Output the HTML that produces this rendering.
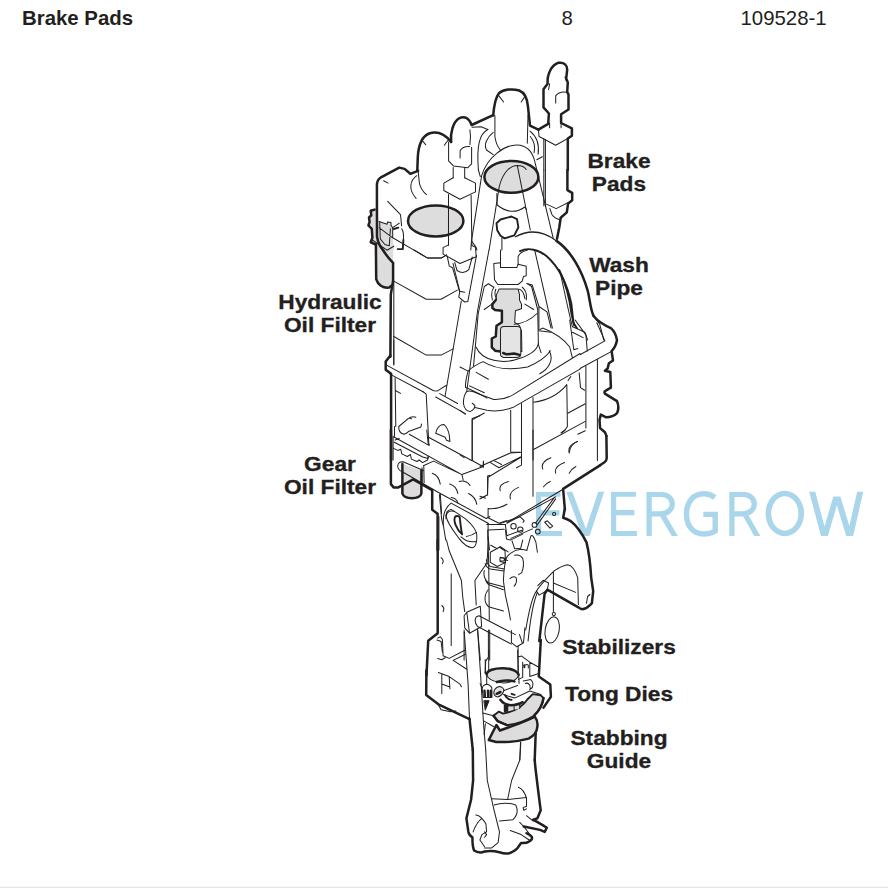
<!DOCTYPE html>
<html><head><meta charset="utf-8">
<style>
html,body{margin:0;padding:0;background:#fff;}
body{width:888px;height:888px;overflow:hidden;position:relative;font-family:"Liberation Sans",sans-serif;color:#231f20;}
.t{position:absolute;white-space:nowrap;line-height:1;}
.h{font-size:20.4px;top:7.7px;}
.l{font-weight:bold;font-size:19.7px;text-align:center;line-height:23px;transform:translateX(-50%) scaleX(1.153);-webkit-text-stroke:0.3px #231f20;}
svg{position:absolute;left:0;top:0;}
#art path,#art ellipse{fill:none;stroke:#231f20;stroke-linecap:round;stroke-linejoin:round;}
#art .k{stroke-width:2.5;}
#art .n2{stroke-width:1.3;}
#art .m{stroke-width:1.9;}
#art .n{stroke-width:1.02;}
#art .g{fill:#dddddd;}
#art .w{fill:#fff;}
#art .e{stroke-width:2.5;}
#art .g2{fill:#e4e4e4;}
#art .nost{stroke:none;}
#art .dk{fill:#231f20;stroke-width:1;}
#art .wm{stroke:#a9d6ea;stroke-width:4.6;stroke-linecap:butt;stroke-linejoin:miter;stroke-miterlimit:10;}
</style></head><body>
<svg id="art" width="888" height="888" viewBox="0 0 888 888">
<defs><clipPath id="wc"><path d="M520,491.7 H829 V496.5 H845 V491.7 H880 V536.0 H520 Z"/></clipPath></defs>
<g clip-path="url(#wc)">
<path class="wm" style="stroke-width:5.2" d="M560.5,494.2 L538.6,494.2 L538.6,533.5 L562,533.5 M538.6,512.9 L559.4,512.9"/>
<path class="wm" style="stroke-width:5.7" d="M567.1,485.7 L586.1,537.5 L603.2,485.7"/>
<path class="wm" style="stroke-width:5.2" d="M635.9,494.2 L613.6,494.2 L613.6,533.5 L636.9,533.5 M613.6,512.6 L634.4,512.6"/>
<path class="wm" style="stroke-width:5.3" d="M649.1,539.0 L649.1,494.3 L660.5,494.3 C676.2,494.3 676.2,513.8 660.5,513.8 L649.1,513.8 M661.8,513.8 L677.3,540.3"/>
<path class="wm" style="stroke-width:5.3" d="M731.9,539.0 L731.9,494.3 L742.5,494.3 C758.2,494.3 758.2,513.8 742.5,513.8 L731.9,513.8 M744.6,513.8 L759.8,540.3"/>
<path class="wm" style="stroke-width:5.9" d="M810.4,485 L824.4,537.5 L836.8,495 L849.8,537.5 L861.7,485"/>
</g>
<path class="wm" style="stroke-width:5.4" d="M714.8,497.5 C711.5,495 708,493.8 704,493.8 C693,493.8 686.5,502 686.5,513.9 C686.5,526 693,534 704,534 C708.5,534 712,533 715.2,531 L715.2,514.4 L703.3,514.4"/>
<ellipse class="wm" style="stroke-width:5.6" cx="784.8" cy="513.45" rx="16.4" ry="20"/>
<ellipse class="g e" cx="511.4" cy="176.9" rx="27.0" ry="15.9"/>
<ellipse class="g e" cx="435.7" cy="220.9" rx="27.7" ry="15.5"/>
<path class="g nost" d="M374.6,209.6 L370.7,210.8 L371.3,215.3 L369.0,217.5 L369.6,222.0 L368.4,225.4 L371.8,228.8 L372.4,237.8 L370.7,242.3 L375.8,244.5 L375.8,280.6 L379.1,286.2 L385.9,288.5 L390.4,285.1 L393.2,279.5 L393.8,267.1 L392.7,262.6 L393.8,246.2 L392.7,237.8 L392.7,227.7 L391.0,225.4 L391.0,222.6 L387.6,222.0 L387.0,224.3 L379.1,221.5 L376.9,217.5 L376.7,209.6 Z"/>
<path class="g nost" d="M402.4,463.8 L421.4,470.5 L421.4,493.5 Q420.0,498.2 411.9,498.2 Q403.8,498.2 402.4,493.5 Z"/>
<path class="k" d="M417.3,170.0 L417.8,156.8 C418.6,144.6 421.6,136.5 429.1,133.5 C436.5,131.1 444.6,133.8 451.1,141.9"/>
<path class="k" d="M451.1,141.9 C450.3,132.4 453.0,122.3 458.8,118.5 C464.2,115.5 468.9,117.6 471.6,125.0 L493.2,115.1"/>
<path class="n" d="M469.9,129.7 L470.5,136.5 L469.9,144.6"/>
<path class="n" d="M448.6,141.9 L448.6,160.8 L453.4,165.9 L467.6,167.8 L471.6,163.8 L471.6,147.3"/>
<path class="n" d="M460.1,158.1 L460.1,150.7 Q462.8,146.2 469.6,146.6"/>
<path class="n" d="M421.6,139.9 L425.7,144.6 M448.0,140.3 L444.3,145.3"/>
<path class="n" d="M472.0,127.3 L481.1,126.8 L487.8,129.5"/>
<path class="n" d="M487.8,129.5 C479.7,133.8 476.4,144.6 478.4,170.0"/>
<path class="n" d="M493.2,132.4 C486.5,137.8 483.8,144.6 486.5,150.0 L493.2,154.7"/>
<path class="k" d="M493.2,115.5 C493.9,106.8 495.1,98.0 498.9,93.2 C503.6,89.2 512.4,88.5 519.2,90.5 C524.6,92.6 527.3,97.3 528.0,106.8 L530.0,125.7 L538.4,129.7"/>
<path class="k" d="M538.4,129.7 L548.2,123.9 L548.9,113.5 L543.5,107.4 L543.5,89.2 L547.6,83.8 C546.9,74.3 551.6,64.9 558.4,62.8 C564.5,61.9 567.2,65.5 567.2,69.6 L566.2,78.4 L567.8,82.4 L567.2,91.9 L568.5,94.6 L568.5,109.5 L561.1,114.2 L561.1,123.0 L571.9,128.4 L571.9,135.8 L567.8,138.5 L567.8,170.0"/>
<path class="n" d="M538.4,130.0 L539.1,136.5 L555.7,145.3 L571.9,136.1"/>
<path class="n" d="M549.6,123.0 L549.6,127.7 M561.1,123.0 L561.1,127.7"/>
<path class="n" d="M543.8,138.5 L543.8,170.0 M545.4,139.5 L545.4,170.0"/>
<path class="n" d="M555.7,103.0 L555.7,95.9 Q559.1,91.2 566.5,92.2"/>
<path class="n" d="M549.6,83.8 L548.6,89.5 M564.9,77.0 L566.5,81.4"/>
<path class="n" d="M498.9,95.9 L503.6,102.0 M525.3,95.9 L521.2,102.0"/>
<path class="n" d="M494.9,115.5 L494.9,136.5 Q495.9,144.6 500.3,150.0 M528.0,114.9 L527.3,143.2"/>
<path class="n" d="M530.0,131.1 C536.8,136.5 539.5,144.6 538.1,154.1 M530.3,136.5 C534.7,141.9 535.4,147.3 534.1,152.7 M542.4,156.8 L536.8,159.7"/>
<path class="n" d="M470.8,250.0 L471.5,240.8 L481.6,175.9 C487.0,157.0 504.6,144.9 516.8,144.9 C527.6,145.1 533.0,153.0 535.0,162.4 L553.2,238.1"/>
<path class="n" d="M489.1,250.0 L499.2,186.8 C503.2,170.5 511.4,165.4 517.4,165.4 C522.2,165.4 524.9,167.2 526.2,169.5 M517.4,165.8 L530.3,230.0"/>
<path class="n" d="M471.5,240.8 L476.2,247.6 L476.9,250.0"/>
<path class="k" d="M567.4,169.9 L567.4,190.1 L572.2,192.8 L572.2,200.3 L568.1,203.6 L566.8,212.4 L560.7,217.8 L559.3,227.3 L557.0,238.8"/>
<path class="n" d="M543.8,169.9 L543.8,205.7 M545.4,169.9 L545.4,206.4"/>
<path class="n" d="M546.5,204.1 L556.2,208.6 L572.2,200.5 M549.9,208.6 L551.9,214.5 Q554.6,218.5 560.3,219.9"/>
<path class="n" d="M478.4,170.0 L480.3,176.6"/>
<path class="n" d="M497.2,205.0 Q511.4,216.5 524.9,207.0 M496.8,193.5 L497.2,205.0 M524.9,207.0 L526.5,209.7"/>
<path class="m" d="M496.5,223.2 L500.5,219.5 L511.4,216.5 L517.0,219.2 L518.4,227.3 L514.3,235.4 L504.6,238.4 L500.5,235.7 L497.2,230.3 Z"/>
<path class="n" d="M501.9,250.0 L501.9,238.1"/>
<path class="n2" d="M515.4,236.8 C522.7,232.8 533.5,230.1 544.3,234.2 C549.7,236.2 553.8,238.9 556.5,240.9"/>
<path class="k" d="M556.5,240.9 C571.4,251.1 582.2,271.4 587.6,290.3 C590.3,301.1 590.3,309.2 593.6,315.9"/>
<path class="m" d="M520.0,251.1 C528.1,247.0 538.9,249.7 547.0,256.5 C560.5,268.6 567.3,284.9 571.4,303.8 L573.4,322.7 L576.8,328.1"/>
<path class="m" d="M559.2,270.0 C565.9,283.5 570.0,301.1 571.6,314.6 L574.1,325.4"/>
<path class="n" d="M560.0,272.0 C563.2,284.9 566.6,303.8 572.4,326.8"/>
<path class="n" d="M534.9,251.1 L552.4,328.1"/>
<path class="n" d="M538.9,306.5 L538.9,330.8 L551.1,332.2 M526.8,283.5 L532.2,284.9 L538.9,306.5 L547.0,311.9 L551.1,328.1"/>
<path class="n" d="M593.6,315.9 L599.7,324.1 L603.8,340.0 M572.7,326.8 L584.9,332.2 L587.6,340.0"/>
<path class="k" d="M383.0,250.0 Q378.2,244.6 377.0,236.5 L376.9,185.4 C376.9,181.4 378.2,179.1 380.5,177.7 L399.2,167.6 L404.6,168.9 L410.3,173.8 L418.1,170.9"/>
<path class="n" d="M418.1,170.9 L419.5,183.8 Q421.5,190.5 426.5,194.6 M416.8,175.7 C410.0,180.4 408.0,189.2 416.1,198.4"/>
<path class="n" d="M383.6,180.8 L388.1,183.1"/>
<path class="n" d="M387.7,201.4 L400.5,214.6 L401.6,225.7"/>
<path class="n" d="M420.1,253.8 L427.6,258.1 L441.1,258.1 L446.5,255.1"/>
<path class="n" d="M453.2,167.6 L453.2,177.7 M464.7,167.6 L464.7,177.7"/>
<path class="n" d="M453.2,177.7 L443.8,183.1 L443.8,190.5 L460.0,199.3 L475.5,191.9 L475.5,183.1 L464.7,177.7"/>
<path class="n" d="M448.5,194.6 L448.5,245.3 M471.1,195.3 L471.9,245.9"/>
<path class="n" d="M448.5,244.9 L443.1,247.6 L443.1,254.1 L460.0,263.5 L476.2,256.8 L475.5,247.3 L471.9,245.4"/>
<path class="k" d="M374.6,209.6 L370.7,210.8 L371.3,215.3 L369.0,217.5 L369.6,222.0 L368.4,225.4 L371.8,228.8 L372.4,237.8 L370.7,242.3 L375.8,244.5"/>
<path class="n" d="M379.1,221.5 L387.0,224.3 L387.6,222.0 L391.0,222.6 L391.0,225.4 L392.7,227.7 L392.7,237.8 L420.0,253.6 M392.7,227.7 L399.4,223.2 M379.1,227.7 L392.7,237.8 M379.7,222.6 L380.3,238.9 L384.8,244.5 L389.3,245.7 L390.4,228.8 M387.0,250.2 L393.8,246.2 M372.4,240.0 L387.0,250.2"/>
<path class="m" d="M393.8,229.0 L398.3,227.7 M403.4,240.0 L402.8,249.1 L397.7,249.1"/>
<path class="n" d="M401.7,228.8 Q404.1,232.2 403.4,240.0"/>
<path class="k" d="M375.9,244.5 L376.2,279.1 C377.6,284.5 383.0,288.5 389.1,287.6 L392.4,285.1"/>
<path class="k" d="M383.0,250.0 Q387.0,256.8 393.1,262.8 L393.1,280.4 L390.8,294.6 L390.4,356.8"/>
<path class="n" d="M393.8,281.1 L393.8,364.9"/>
<path class="n" d="M393.8,281.1 L426.2,299.3 L441.1,299.3 L457.3,290.1 M393.8,336.5 L426.2,355.1 L441.1,355.1 L453.2,348.9 M414.1,250.0 L427.6,258.1 L441.1,258.1 L446.5,254.9"/>
<path class="n" d="M447.2,256.1 L449.3,266.1 L452.6,267.8 L459.7,292.2 L458.8,297.2 L464.7,302.0 L467.8,301.6 L476.5,255.4"/>
<path class="n" d="M454.7,262.4 L457.0,270.5 Q463.4,275.0 468.8,269.6 L472.3,257.0 M453.0,263.5 L459.7,291.2 L464.7,292.2"/>
<path class="n" d="M461.3,301 L445.1,396"/>
<path class="n" d="M489,250 L477.7,310 L469.6,370 L466.8,391"/>
<path class="g n" d="M499.2,288.9 L518.1,288.9 L519.5,294.6 L519.5,300.0 L521.5,304.1 L521.5,308.8 L515.4,310.8 L514.7,322.3 L519.5,325.7 L521.5,331.1 L521.9,351.4 L500.5,351.6 L495.1,350.7 L491.8,347.3 L491.8,338.5 L495.8,336.5 L496.5,325.7 L501.9,322.3 L501.9,310.8 L495.1,310.1 L492.4,308.1 L492.4,304.1 L495.8,300.0 L496.5,294.6 Z"/>
<path class="k" d="M495.8,300.0 L492.4,304.1 L492.4,308.1 L495.1,310.1 L501.9,310.8 L501.9,322.3 L496.5,325.7 L495.8,336.5 L491.8,338.5 L491.8,347.3 L495.1,350.7 L500.5,351.6"/>
<path class="g2 n" d="M500.5,329.7 Q500.5,326.4 503.9,326.4 L517.4,326.4 Q520.8,326.4 520.8,329.7 L520.8,354.1 Q520.8,357.4 517.4,357.4 L503.9,357.4 Q500.5,357.4 500.5,354.1 Z"/>
<path class="k" d="M503.2,353.0 L506.6,354.3 L514.1,353.5 L519.5,354.9"/>
<path class="n" d="M493.8,263.5 L500.5,262.8 L500.5,267.6 L516.8,267.6 L518.1,264.2 L526.2,266.2 L526.2,275.7 L523.5,276.4 L522.2,281.1 L518.1,284.5 L497.8,284.5 L494.5,279.7 Z"/>
<path class="n" d="M500.5,250.0 L500.5,262.8 M518.1,264.2 L518.1,256.8 Q519.5,252.0 527.6,250.0"/>
<path class="n" d="M473.5,366.2 L475.5,344.6 L478.2,313.5 L484.3,286.5 L488.4,283.8 L493.8,287.2 M527.6,283.8 L531.6,286.5 L537.7,309.5 L538.4,344.6 L541.1,352.7"/>
<path class="n" d="M493.8,287.2 Q490.4,291.9 492.4,300.0 M495.8,289.2 Q493.8,294.6 496.5,298.6 M519.5,289.2 Q523.5,290.5 524.9,298.6 M522.2,287.2 Q527.6,291.9 526.2,300.0 M484.3,309.5 L491.8,304.1 M524.9,304.1 L533.6,309.5"/>
<path class="n" d="M514.1,324.3 Q527.6,323.0 537.0,313.5"/>
<path class="n" d="M476.2,347.3 C481.6,360.8 503.2,364.9 520.8,358.1 C531.6,354.1 537.7,348.6 538.4,343.2"/>
<path class="k" d="M390.4,355.5 L385.7,361.6 L385.7,369.7 L391.1,373.8 L391.1,460.0"/>
<path class="n" d="M393.8,340.0 L393.8,364.3"/>
<path class="n" d="M387.0,365.4 L433.6,390.8 L437.0,391.1 L446.5,385.3 M439.7,393.6 L457.6,403.5 M390.0,374.1 L423.5,392.0 M435.7,397.0 L465.4,413.6"/>
<path class="n" d="M395.1,377.8 L395.8,426.5 M409.3,434.2 L428.9,445.4 L426.2,394.1 L423.5,392.0 M395.8,390.7 L400.5,393.4"/>
<path class="n" d="M398.8,426.5 L407.6,419.1 Q412.0,415.7 415.8,417.3 M398.8,426.5 Q398.1,432.6 403.9,434.3 Q406.6,433.5 408.4,431.6 L420.9,427.0 L421.5,424.1 M406.6,419.7 Q408.9,417.3 411.6,418.9"/>
<path class="n" d="M435.7,433.2 L437.0,429.2 Q439.7,424.5 444.1,424.6 Q447.8,427.8 449.2,434.6 L449.9,441.4 L446.5,440.3 L445.1,437.3 Z"/>
<path class="n" d="M394.5,426.5 L394.5,436.2 M393.1,436.2 L393.1,460.0 M395.1,440.0 L399.2,438.4"/>
<path class="n" d="M472.2,418.4 L472.2,460.0 M472.2,418.4 L480.0,415.7"/>
<path class="n" d="M580.0,353.5 L514.1,394.1 Q504.6,400.1 493.8,399.5 L478.9,394.1 Q470.8,390.0 466.8,391.4 Q463.4,395.4 463.4,403.5 Q464.7,410.9 470.1,411.6 Q474.9,409.6 474.9,405.5 L472.2,403.2"/>
<path class="n" d="M474.9,407.6 L487.0,410.3 Q500.5,412.3 512.7,407.6 L580.0,369.1"/>
<path class="n" d="M521.5,403.5 L521.5,460.0 M533.0,397.4 L533.0,460.0 M510.7,410.3 L510.7,452.2 L519.5,452.2"/>
<path class="n" d="M472.2,419.7 L484.3,413.0 M472.2,419.7 L472.2,460.0 M460.0,410.3 L465.4,414.3 M460.0,454.9 L464.1,457.6"/>
<path class="n" d="M533.6,402.2 Q554.6,399.5 566.8,384.6 L567.4,426.5 Q565.4,430.5 561.4,433.2 M568.1,380.5 L570.8,376.5"/>
<path class="n" d="M468.1,371.1 Q473.5,365.7 483.0,361.6 M483.0,361.6 Q500.5,372.4 527.6,367.0 Q543.8,360.3 550.5,350.8 M468.1,371.1 Q465.4,380.5 465.4,387.3 Q480.3,394.1 487.0,398.1 M476.2,372.4 L488.4,379.2 M469.5,385.9 L484.3,392.7 M549.2,350.8 C554.6,360.3 547.8,369.7 539.7,373.8"/>
<path class="n" d="M569.5,452.2 Q570.1,444.7 577.6,441.4"/>
<path class="n" d="M460.0,367.0 L468.1,371.1"/>
<path class="n" d="M533.6,449.5 L585.3,421.4"/>
<path class="k" d="M593.6,315.9 Q596.8,320.0 601.1,322.7 Q606.2,326.1 610.9,328.1 Q615.7,332.2 617.0,340.3 Q615.7,347.0 611.6,351.1 L613.0,360.5 L608.9,363.2 L607.6,368.6 L604.9,370.7 L610.3,372.0 L610.9,387.6 L606.2,390.3 Q603.5,391.6 604.9,393.6 Q610.3,397.0 617.0,401.1 Q619.7,407.8 617.0,413.2 Q613.0,417.3 606.2,417.3 L600.8,414.6 L599.5,420.0 L600.1,428.1 L604.9,432.2 Q606.2,434.9 606.4,436.2"/>
<path class="k" d="M606.4,436 L606.7,458.2 Q606.5,461 604.8,462 L600,465.2"/>
<path class="n" d="M580.0,354.7 L604.9,340.9 L596.8,322.7 M580.0,368.5 L611.6,351.4"/>
<path class="n" d="M585.9,365.9 L585.9,428.1 M597.4,359.2 L597.4,460.5"/>
<path class="n" d="M579.2,372.7 L580.5,387.6 L584.6,390.3"/>
<path class="n" d="M567.7,413.2 L585.3,403.8 M577.8,434.2 L585.3,430.8"/>
<path class="n" d="M569.7,320.0 L573.8,349.7 L577.8,348.4 M572.4,332.2 L583.2,337.6 M575.1,320.0 L585.9,334.9 L587.3,351.1"/>
<path class="n" d="M540.0,329.5 L542.7,328.1 Q560.3,334.9 569.7,347.0 L572.4,357.8"/>
<path class="k" d="M390.9,430.0 L390.9,484.1 L393.6,487.4 L398.4,487.4 L413.2,479.3 L432.2,490.1 L432.2,509.7 L437.6,513.8 L437.6,550.0"/>
<path class="k" d="M402.4,463.8 L402.4,493.5 Q403.8,498.2 411.9,498.2 Q420.0,498.2 421.4,493.5 L421.4,470.5"/>
<path class="n" d="M397.7,466.5 Q397.7,461.4 403.1,461.8 L423.4,470.5 M397.7,466.5 Q398.4,470.5 403.1,472.2 L440.3,493.5 L486.2,518.5 L490.0,516.5"/>
<path class="n" d="M393.6,448.4 L397.7,450.4 L400.8,449.3 L401.8,453.9 L407.3,456.5 L410.4,454.5 L411.4,459.1 L417.0,461.5 L419.1,460.0 L422.6,462.6 L427.6,460.0 L428.1,457.0"/>
<path class="n" d="M393.6,436.8 L461.9,474.6 L483.5,466.5 L483.5,461.1 M394.3,442.2 L422.7,457.0 L428.1,458.4 L428.1,455.7 M426.8,430.0 L428.1,443.5 L429.5,444.9 M423.4,465.8 L433.5,461.1 L461.9,474.6 L463.2,480.0 M422.0,467.8 L422.0,484.1 M423.8,466.5 L424.1,482.7"/>
<path class="n" d="M432.2,473.2 Q438.9,475.3 440.3,484.1 M449.7,484.1 Q456.5,486.1 457.8,493.5 M468.6,493.5 Q475.4,496.9 476.8,504.3 M459.2,481.4 Q465.9,480.0 470.0,485.4 M451.1,497.6 Q456.5,498.2 457.8,503.0"/>
<path class="n" d="M487.6,475.9 L487.6,494.9 L480.1,498.6 M487.6,475.9 L490.0,475.3"/>
<path class="n" d="M440.3,493.5 L441.6,513.8 M438.9,516.5 L438.9,550.0"/>
<path class="n" d="M443.5,526.0 C442.6,517.0 444.4,508.0 451.1,503.1 L488.1,523.3"/>
<path class="n" d="M445.9,518.8 C445.5,513.4 447.5,509.8 451.1,509.4 L454.7,511.6"/>
<path class="n" d="M439.4,494.5 L441.7,519.7 L443.5,526.0 L445.7,540.0"/>
<path class="n" d="M446.2,516.1 C446.6,511.6 451.1,509.4 455.6,512.1 L465.5,518.8 C471.8,524.2 476.4,529.6 476.8,535.0 C477.3,542.3 475.5,547.7 471.8,547.7 C467.3,547.2 462.8,543.2 459.2,538.6 C453.8,531.4 446.6,522.4 446.2,516.1 Z"/>
<path class="m" d="M455.2,516.6 C452.9,520.6 456.5,529.6 462.1,534.3 C461.0,529.6 460.3,522.4 459.7,517.0 C458.3,515.9 456.5,515.8 455.2,516.6"/>
<path class="n" d="M466.4,536.4 Q471.8,535.5 476.4,532.3 M461.0,536.8 Q468.2,543.2 476.4,541.5"/>
<path class="n" d="M488.1,523.3 L488.1,540.0"/>
<path class="k" d="M600.0,465.4 L563.1,488.9 L564.9,509.7"/>
<path class="n" d="M563.1,489.2 L507.0,522.6"/>
<path class="n" d="M533.0,430.0 L533.0,496.2 M521.5,430.0 L521.5,465.1 L516.5,467.8"/>
<path class="n" d="M480.0,466.5 L510.4,453.0 L521.2,452.3 M488.1,477.3 L521.2,457.0 M488.1,477.3 L487.4,494.9 L480.0,498.9 M480.0,496.2 L485.4,498.2 M490.1,462.4 L498.9,467.8 L520.5,457.0 M493.5,460.4 L501.6,464.5"/>
<path class="n" d="M488.1,508.4 L488.1,517.8 L498.9,523.2 L507.0,520.5 M488.1,508.4 Q497.6,509.7 507.0,504.3"/>
<path class="n" d="M500.3,490.8 Q498.2,484.1 508.4,481.4 M510.4,498.9 Q508.4,491.5 518.5,487.4 M542.8,469.2 Q540.1,461.8 550.9,457.7 M555.7,473.2 Q553.6,466.5 564.5,462.4 M569.2,453.0 Q567.2,445.5 577.3,441.5 M569.2,473.2 Q571.9,468.5 575.9,466.5 M543.5,486.8 Q546.2,483.0 550.3,481.4 M561.1,432.7 L565.1,430.0"/>
<path class="n" d="M507.0,523.2 L555.7,496.9 M535.4,523.2 L554.3,497.6 M537.4,524.6 L555.7,498.9"/>
<path class="n" d="M486.8,524.6 L505.7,524.6 M488.1,530.0 L504.3,529.3 M488.1,536.8 L489.5,550.0"/>
<path class="k" d="M564.6,509.7 L563.2,517.8 Q567.6,519.2 570.3,520.8 Q579.1,527.6 586.5,542.4 Q589.9,555.9 591.2,577.6 L593.2,591.1 L591.9,603.2 L590.8,604.3 Q586.5,608.6 582.4,609.3 Q579.7,608.9 578.4,607.3 L547.3,589.7 L544.6,593.8 L539.3,641.1"/>
<path class="n" d="M536.5,591.1 Q539.2,585.7 554.1,570.8 Q562.2,565.4 567.6,564.7 Q573.6,565.4 577.7,577.6 L578.4,604.6"/>
<path class="n" d="M553.4,572.2 L553.4,611.4 M553.4,583.0 L575.7,592.4 M543.2,580.3 L548.6,583.0 L547.3,589.7 M537.8,585.7 L543.2,580.3 M536.5,591.1 L539.2,595.1 L545.9,591.1"/>
<path class="n" d="M536.5,591.1 Q531.1,597.8 525.7,630.0 M537.2,592.7 Q531.4,607.3 528.1,640.9"/>
<ellipse class="n" cx="553.8" cy="614.1" rx="1.6" ry="1.6"/>
<path class="n" d="M586.5,603.2 L587.6,596.5 L589.9,594.5"/>
<ellipse class="n" cx="552.2" cy="629.9" rx="7.0" ry="13.2" transform="rotate(10 552.2 629.9)"/>
<ellipse class="n" cx="513.5" cy="526.2" rx="2.7" ry="2.7"/>
<ellipse class="n" cx="520.3" cy="529.6" rx="2.7" ry="2.7"/>
<ellipse class="n" cx="534.5" cy="524.9" rx="2.4" ry="2.4"/>
<ellipse class="n" cx="537.8" cy="531.6" rx="2.4" ry="2.4"/>
<ellipse class="n" cx="554.1" cy="514.1" rx="1.6" ry="1.6"/>
<path class="n" d="M544.6,522.2 L547.3,520.8 L552.7,526.2 L550.0,528.2 Z"/>
<path class="n" d="M500.0,523.5 L520.3,516.8 L524.3,520.8 L523.0,522.4 M505.4,524.9 L506.8,535.7 L521.6,530.3 M510.8,538.4 L532.4,528.9"/>
<path class="n" d="M500.0,546.5 L508.1,551.9 M500.0,557.3 L505.4,558.6 L505.4,562.7 L500.0,561.4"/>
<path class="k" d="M437.7,540.0 L437.7,633.2 L428.2,640.7 L426.5,675.1"/>
<path class="n" d="M451.2,573.8 L451.2,645.4 M437.0,640.0 L441.1,641.4 L442.4,652.2"/>
<path class="n" d="M441.1,557.6 Q444.5,560.3 442.4,563.6 M441.8,605.5 Q445.1,608.2 443.1,611.6"/>
<path class="n" d="M446.5,540.0 L449.2,550.8 L461.4,580.5 L462.7,596.8 L464.7,611.6 M464.1,631.9 L464.1,660.0"/>
<path class="n" d="M488.4,540.0 L487.0,563.0 L474.9,580.5 L476.2,604.9 M477.6,629.2 L480.3,660.0"/>
<path class="n" d="M466.8,612.3 L480.3,606.2 L481.6,626.5 L469.5,633.2 Z M466.8,612.3 L464.1,615.7 L464.7,627.8 L469.5,633.2"/>
<path class="n" d="M476.2,617.0 L478.9,615.7 L515.4,634.6 M477.6,626.5 L511.4,644.1 M476.2,617.0 Q473.5,621.1 477.6,626.5"/>
<path class="k" d="M426.4,670.5 L426.2,694.9 L438.4,704.3 L469.5,719.2"/>
<path class="n" d="M438.4,705.0 L441.1,709.7 L450.5,711.8 L455.9,711.1"/>
<path class="n" d="M464.1,630.0 L468.1,684.1 L469.5,718.5"/>
<path class="k" d="M469.5,718.5 L470.1,724.6 L472.8,750.0"/>
<path class="n" d="M477.6,630.0 L480.3,670.5 L483.6,724.6 L485.7,750.0"/>
<path class="n" d="M437.7,638.1 L440.4,636.8 L442.4,639.5 L443.1,655.7 L449.2,658.4 L464.7,650.3 M437.7,658.4 L441.8,659.7 L445.1,657.7 M438.4,672.6 L449.2,676.6 L460.0,684.1 L461.4,686.8 M441.8,674.6 L441.8,693.5 M449.2,676.6 L449.9,688.8 M441.8,684.1 L449.2,686.8 M453.2,660.4 L466.8,669.2 M453.2,660.4 L465.4,654.3"/>
<path class="n" d="M488.4,630.0 L488.4,657.0 L485.7,661.1 L485.0,673.2 M518.1,646.2 L518.1,670.5"/>
<path class="k" d="M540.8,640.0 L538.8,676.5 L550.3,684.6 L550.9,696.8 L543.5,707.6"/>
<path class="g k" d="M488.8,740.0 L496.4,725.0 L499.9,730.5 L512.6,725.9 Q525.9,721.1 534.9,716.6 Q538.1,721.1 537.4,726.5 Q536.8,734.6 528.6,738.6 Q513.8,742.7 496.2,742.0 Z"/>
<path class="g m" d="M493.5,715.7 L498.9,711.6 L503.0,713.6 Q520.5,710.3 527.3,699.5 L532.7,694.1 L540.8,695.4 L543.5,698.1 Q542.2,707.6 534.1,715.7 Q520.5,723.8 507.0,725.1 L497.6,721.1 Z"/>
<path class="k" d="M493.5,715.7 L497.6,721.1 L507.0,725.1 M543.5,698.1 Q542.2,707.6 534.1,715.7"/>
<path class="n" d="M482.7,713.0 L493.5,715.7 M484.1,721.1 L493.5,726.5 M485.4,723.8 L484.1,734.6"/>
<path class="n" d="M520.5,742.0 L519.9,760.0"/>
<path class="k" d="M535.7,733.2 L534.7,760.0"/>
<path class="k" d="M472.8,750.0 L473.1,780.5 L471.1,799.5 L466.4,818.4 L468.4,831.9 Q469.1,835.3 472.4,837.3 Q472.4,846.8 474.1,850.5 Q479.2,853.8 484.6,851.5 Q491.4,850.1 499.5,852.2 Q506.2,854.6 510.3,852.8 Q516.4,850.1 518.4,846.8 L521.1,843.0 Q526.5,843.4 529.2,841.4 Q533.2,839.3 531.6,836.6 Q529.9,834.6 526.5,833.2"/>
<path class="k" d="M534.7,760.0 L535.3,767.0 L538.6,794.1 L540.7,810.3 L537.3,818.4 L533.2,819.7 L542.7,825.1 L546.8,827.8 L544.7,831.9 L540.0,829.9 L523.8,826.5"/>
<path class="n" d="M485.7,750.0 L487.3,780.5 L494.1,810.3 L499.5,831.9 L498.1,842.7 L491.4,848.1 L484.6,848.1"/>
<path class="n" d="M520.8,742.7 L519.7,760.3 L511.6,780.5 L507.6,799.5 M491.4,798.8 L507.6,799.5 L526.5,797.4 M494.1,804.9 Q504.9,801.5 515.7,804.9 Q519.7,813.0 513.0,819.7 L499.5,821.1"/>
<path class="n" d="M518.4,787.3 Q523.8,789.3 526.5,798.1 L526.5,806.2 L523.1,807.6 L523.8,810.3 L526.5,808.9 M475.8,815.0 Q480.5,815.0 485.9,823.8 L486.6,831.9 L481.9,834.6 L479.9,840.0 L484.6,846.8 M473.1,831.9 Q476.5,822.4 481.9,818.4 M484.6,831.9 L486.6,834.6 L484.6,837.3"/>
<path class="n" d="M519.7,822.4 L523.8,826.5 L531.9,837.3 M510.3,830.5 L521.1,834.6 L529.2,840.0 M526.5,815.7 L533.2,821.1"/>
<path class="n" d="M487.7,530.0 L488.7,563.4 L489.3,620.0"/>
<path class="n" d="M490.3,552.3 L499.4,547.2 L505.0,550.8 L505.5,562.4 L497.4,566.5 L490.3,562.4 Z M490.8,545.2 L497.2,548.7"/>
<ellipse class="n" cx="502.2" cy="559.4" rx="2.4" ry="1.7"/>
<path class="n" d="M504.3,559.4 L507.7,560.4"/>
<path class="n" d="M505.5,530.0 L506.5,539.1 L510.5,540.1 L522.7,534.1 M512.1,541.1 L514.6,548.7 L520.7,548.2 L522.7,540.1"/>
<path class="n" d="M505.5,560.4 C506.5,555.3 512.6,550.3 520.7,549.3 L526.8,550.3 M505.5,560.4 L504.0,570.5 L503.4,580.7 L505.5,595.9 L508.5,609.1 L510.5,620.0"/>
<path class="n" d="M514.6,555.3 Q519.7,553.8 522.7,558.4 Q524.7,565.5 521.7,572.6 L518.6,574.6 M510.0,578.6 Q513.1,575.6 516.1,577.6 Q517.6,582.7 514.1,586.2"/>
<path class="n" d="M526.8,550.3 L530.8,536.1 Q532.8,533.5 535.9,542.2 L537.4,552.3"/>
<path class="n" d="M486.7,559.4 Q485.7,562.9 490.3,566.5 L504.5,569.0 M485.2,563.4 Q486.2,567.5 490.3,569.0 L504.0,571.0 M484.2,570.5 Q482.7,577.6 488.2,582.7 L503.4,586.8 M485.2,578.6 Q486.2,583.7 490.3,585.2 L503.4,589.8 M488.2,589.8 Q484.2,594.9 485.2,600.9 Q486.2,605.5 489.3,607.0 L503.4,611.1"/>
<path class="n" d="M511.4,630.5 L511.4,642.7 L516.8,646.8 L523.5,642.7 L524.9,627.8 M489.7,630.0 L489.7,660.0 M519.5,634.6 L522.2,642.7"/>
<path class="n" d="M472.1,460.5 L483.3,466.7 M483.3,461.8 L483.3,467.3"/>
<path class="n" d="M429,437.5 L472.1,460.8"/>
<path class="g nost" d="M486.7,674.3 C487.2,670.3 494.3,668.2 502.4,668.2 C510.5,668.2 517.6,670.8 518.6,674.8 C517.6,679.4 511.6,682.6 503.4,682.9 C495.3,682.6 487.7,679.4 486.7,674.3 Z"/>
<path class="w nost" d="M496.6,682.2 Q504.5,679.1 514.6,681.6 Q505.5,684.2 496.6,682.2 Z"/>
<path class="k" d="M486.7,674.3 C487.2,670.3 494.3,668.2 502.4,668.2 C510.5,668.2 517.6,670.8 518.6,674.8"/>
<path class="n" d="M486.7,674.3 C487.7,679.4 495.3,682.6 503.4,682.9 C511.6,682.6 517.6,679.4 518.6,674.8"/>
<path class="k" d="M496.9,682.0 Q504.5,679.1 514.4,681.4"/>
<path class="n" d="M485.2,659.6 L485.5,673.8 M488.7,650.0 L488.7,669.8 M517.6,650.0 L518.4,674.8 M486.7,674.8 L486.7,684.0 M518.7,675.3 L519.1,683.4"/>
<path class="n" d="M517.6,657.1 L521.7,656.1 L529.8,662.2 L538.9,667.2 L538.9,676.6 M522.7,662.2 L522.7,677.4 L518.6,679.4 M529.8,662.2 L529.8,676.4 L537.9,673.8 M525.2,665.2 Q526.8,663.7 528.3,665.2 L528.3,668.0"/>
<path class="m" d="M524.2,665.2 L524.4,667.4"/>
<path class="n" d="M523.2,680.9 L530.8,679.6 Q534.1,682.4 532.3,687.5 L529.8,689.7 M525.2,683.4 Q527.8,682.4 529.8,685.0 L530.3,689.0"/>
<path class="n" d="M482.2,688.5 Q482.7,685.0 486.7,684.3 Q490.8,685.0 491.8,688.0 L491.8,697.6 L483.2,697.6 Z M480.1,683.4 L482.2,688.5"/>
<path class="k" d="M484.5,690.7 L484.8,696.6 M488.0,690.7 L488.2,696.6 M490.9,690.7 L491.0,696.6"/>
<path class="dk" d="M484.2,700.7 L489.1,700.7 L485.4,709.8 Z"/>
<path class="g2 n" d="M493.8,692.6 Q494.3,687.5 499.4,686.5 Q503.4,687.0 504.0,690.5 Q502.4,695.6 497.4,697.1 Q493.8,696.1 493.8,692.6 Z"/>
<path class="k" d="M496.6,693.8 L500.4,692.0"/>
<path class="n" d="M504.0,690.5 L517.6,685.5 M503.4,694.6 L514.6,698.1 L529.8,691.0 L540.9,694.6"/>
<path class="m" d="M505.0,695.1 Q507.5,699.7 511.6,699.9 M511.6,693.8 L514.6,694.8"/>
<path class="g nost" d="M507.0,705.5 L514.1,705.5 L514.1,710.0 L507.0,710.8 Z M514.6,705.2 L519.7,703.9 L519.7,708.6 L514.6,709.8 Z"/>
<path class="k" d="M500.4,699.7 Q503.4,704.2 510.5,705.2 Q517.6,705.2 522.7,702.2 M505.0,705.2 L505.0,711.0 M507.0,705.5 L507.0,710.8"/>
<path class="n" d="M514.1,705.2 L514.1,710.0 M519.7,703.7 L519.7,708.6"/>
</svg>
<div class="t h" style="left:22px;font-weight:bold;">Brake Pads</div>
<div class="t h" style="left:561.5px;">8</div>
<div class="t h" style="left:740.5px;">109528-1</div>
<div class="t l" style="left:618.5px;top:149.8px;">Brake<br>Pads</div>
<div class="t l" style="left:618.5px;top:253.8px;">Wash<br>Pipe</div>
<div class="t l" style="left:329.5px;top:290.8px;">Hydraulic<br>Oil Filter</div>
<div class="t l" style="left:329.5px;top:452.8px;">Gear<br>Oil Filter</div>
<div class="t l" style="left:618.5px;top:635.8px;">Stabilizers</div>
<div class="t l" style="left:618.5px;top:682.8px;">Tong Dies</div>
<div class="t l" style="left:618.5px;top:726.8px;">Stabbing<br>Guide</div>
<div style="position:absolute;left:0;top:882px;width:888px;height:1px;background:#fbfbfb;"></div>
<div style="position:absolute;left:0;top:886px;width:888px;height:1px;background:#f9f9f9;"></div>
<div style="position:absolute;left:0;top:887px;width:888px;height:1px;background:#e6e6e6;"></div>
</body></html>
